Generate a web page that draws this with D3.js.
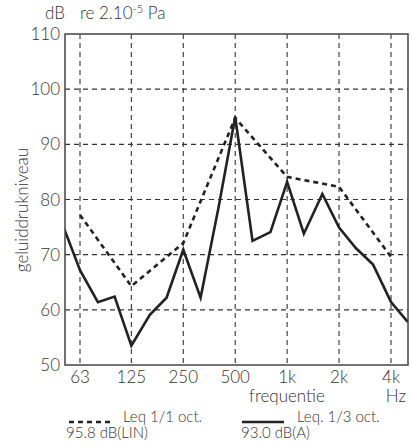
<!DOCTYPE html>
<html>
<head>
<meta charset="utf-8">
<script src="https://cdn.jsdelivr.net/npm/d3@7.9.0/dist/d3.min.js"></script>
<style>
  body { margin: 0; background: #fff; }
  svg { display: block; font-family: Lato, "Open Sans", sans-serif; font-weight: 300; fill: #333; }
</style>
</head>
<body>
<div id="chart"></div>
<script>
// ---- data ----
const thirdFreqs = [50, 63, 80, 100, 125, 160, 200, 250, 315, 400, 500, 630, 800,
  1000, 1250, 1600, 2000, 2500, 3150, 4000, 5000];
const thirdLevels = [75.4, 67.2, 61.4, 62.4, 53.5, 59.1, 62.2, 70.9, 62.2, 78.5, 95.0,
  72.5, 74.1, 83.2, 73.8, 81.0, 74.9, 71.2, 68.2, 61.4, 57.8];

const octFreqs = [63, 125, 250, 500, 1000, 2000, 4000];
const octLevels = [77.2, 64.3, 72.1, 94.8, 84.1, 82.3, 69.6];

const xTickFreqs = [63, 125, 250, 500, 1000, 2000, 4000];
const xTickLabels = ["63", "125", "250", "500", "1k", "2k", "4k"];
const yTicks = [50, 60, 70, 80, 90, 100, 110];

const width = 412, height = 446;
const plot = { left: 65, right: 408, top: 34, bottom: 365 };

const svg = d3.select("#chart").append("svg")
  .attr("width", width).attr("height", height);

// scales: octave bands 63..4000 centred on the grid
const x = d3.scaleLog().domain([63, 4000]).range([80, 391]);
const y = d3.scaleLinear().domain([50, 110]).range([plot.bottom, plot.top]);

svg.append("clipPath").attr("id", "clip")
  .append("rect")
  .attr("x", plot.left).attr("y", plot.top)
  .attr("width", plot.right - plot.left).attr("height", plot.bottom - plot.top);

// grid
const grid = svg.append("g").attr("stroke", "#333").attr("stroke-width", 1.1)
  .attr("stroke-dasharray", "5,4");
grid.selectAll("line.v").data(xTickFreqs).join("line")
  .attr("x1", d => x(d)).attr("x2", d => x(d))
  .attr("y1", plot.top).attr("y2", plot.bottom);
grid.selectAll("line.h").data(yTicks.slice(1, -1)).join("line")
  .attr("x1", plot.left).attr("x2", plot.right)
  .attr("y1", d => y(d)).attr("y2", d => y(d));

// lines
const line = d3.line().x(d => x(d[0])).y(d => y(d[1]));
const lines = svg.append("g").attr("clip-path", "url(#clip)")
  .attr("fill", "none").attr("stroke", "#222").attr("stroke-width", 2.6)
  .attr("stroke-linejoin", "miter");
lines.append("path")
  .attr("d", line(d3.zip(octFreqs, octLevels)))
  .attr("stroke-dasharray", "5,4");
lines.append("path")
  .attr("d", line(d3.zip(thirdFreqs, thirdLevels)));

// frame
svg.append("rect")
  .attr("x", plot.left).attr("y", plot.top)
  .attr("width", plot.right - plot.left).attr("height", plot.bottom - plot.top)
  .attr("fill", "none").attr("stroke", "#444").attr("stroke-width", 1.5);

// y tick labels
svg.append("g").selectAll("text").data(yTicks).join("text")
  .attr("x", 60).attr("y", d => y(d) + 6)
  .attr("text-anchor", "end").attr("font-size", 17)
  .text(d => d);

// x tick labels
svg.append("g").selectAll("text").data(xTickFreqs).join("text")
  .attr("x", d => x(d)).attr("y", 383)
  .attr("text-anchor", "middle").attr("font-size", 17)
  .text((d, i) => xTickLabels[i]);

svg.append("text").attr("x", 287).attr("y", 402)
  .attr("text-anchor", "middle").attr("font-size", 17).text("frequentie");
svg.append("text").attr("x", 406).attr("y", 402)
  .attr("text-anchor", "end").attr("font-size", 17).text("Hz");

// y axis title
svg.append("text")
  .attr("transform", "translate(28,210) rotate(-90)")
  .attr("text-anchor", "middle").attr("font-size", 17)
  .text("geluiddrukniveau");

// header unit
const hdr = svg.append("text").attr("x", 45).attr("y", 19).attr("font-size", 17);
hdr.append("tspan").text("dB");
hdr.append("tspan").attr("x", 80).text("re 2.10");
hdr.append("tspan").attr("dy", -6).attr("font-size", 11).text("-5");
hdr.append("tspan").attr("dy", 6).text(" Pa");

// legend
const leg = svg.append("g").attr("font-size", 15);
leg.append("line").attr("x1", 69).attr("x2", 111).attr("y1", 422).attr("y2", 422)
  .attr("stroke", "#222").attr("stroke-width", 2.6).attr("stroke-dasharray", "5,4");
leg.append("text").attr("x", 123).attr("y", 422).text("Leq 1/1 oct.");
leg.append("text").attr("x", 66).attr("y", 438).text("95.8 dB(LIN)");
leg.append("line").attr("x1", 242).attr("x2", 284).attr("y1", 422).attr("y2", 422)
  .attr("stroke", "#222").attr("stroke-width", 2.6);
leg.append("text").attr("x", 297).attr("y", 422).text("Leq. 1/3 oct.");
leg.append("text").attr("x", 241).attr("y", 438).text("93.0 dB(A)");
</script>
</body>
</html>
